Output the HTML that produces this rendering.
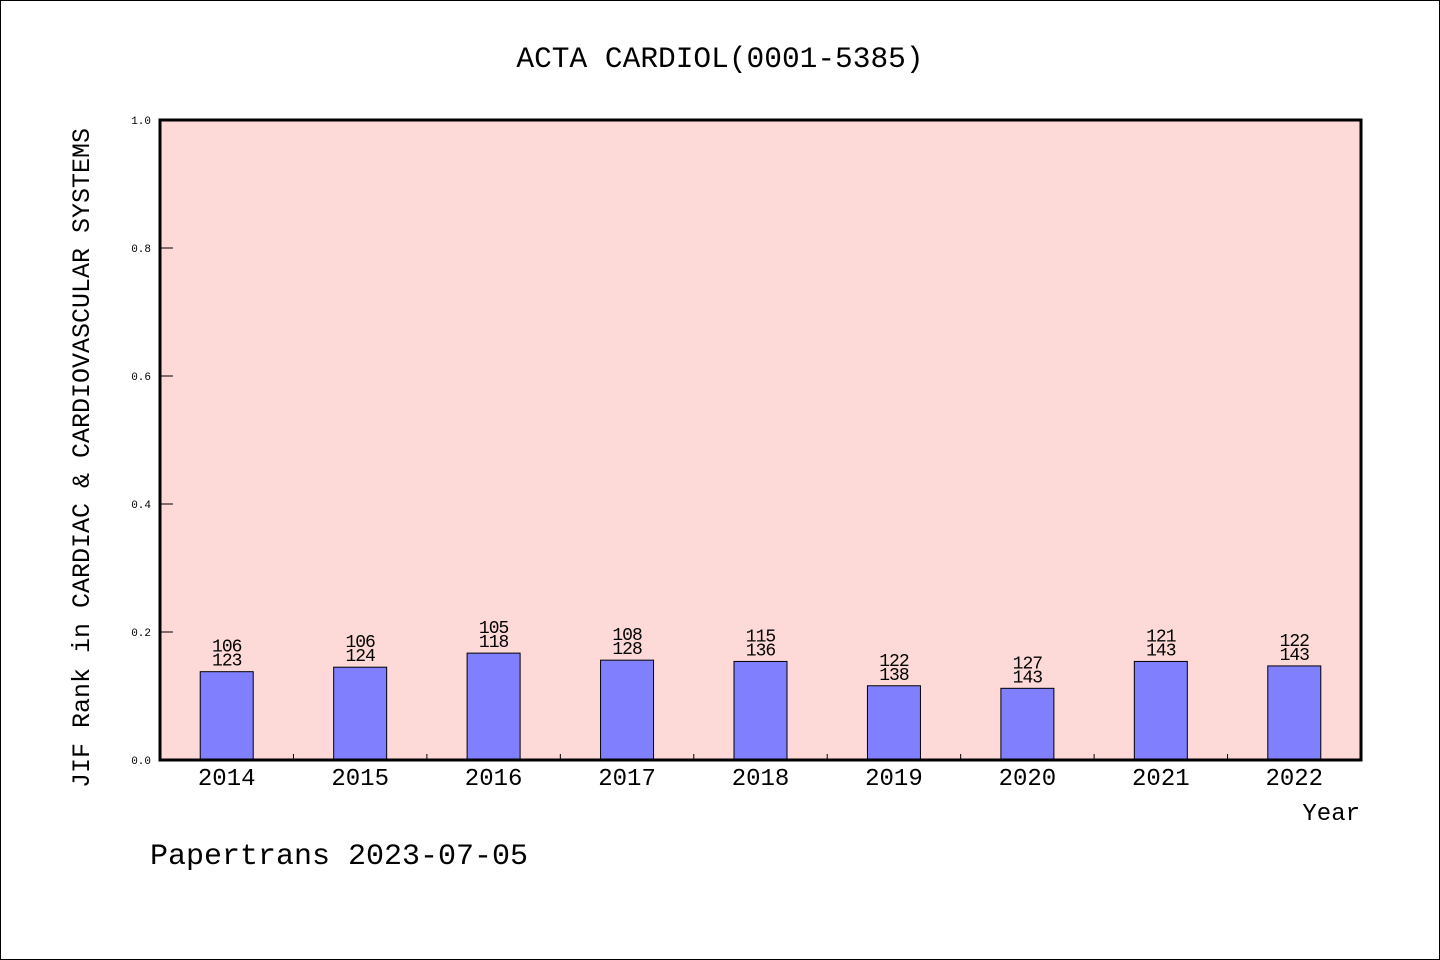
<!DOCTYPE html>
<html><head><meta charset="utf-8"><style>
html,body{margin:0;padding:0;background:#fff}
svg{display:block}
text{font-family:"Liberation Mono","DejaVu Sans Mono",monospace;fill:#000}
</style></head><body>
<svg id="chart" width="1440" height="960" xmlns="http://www.w3.org/2000/svg">
<rect x="0.5" y="0.5" width="1439" height="959" fill="#fff" stroke="#000" stroke-width="1"/>
<text x="720" y="67" text-anchor="middle" font-size="29.5">ACTA CARDIOL(0001-5385)</text>
<rect x="160" y="120" width="1201" height="640" fill="#fddad7"/>
<g id="grid"></g>
<g id="bars"></g>
<rect x="160" y="120" width="1201" height="640" fill="none" stroke="#000" stroke-width="3"/>
<text x="1360" y="820" text-anchor="end" font-size="24">Year</text>
<text transform="translate(89,458) rotate(-90)" text-anchor="middle" font-size="25">JIF Rank in CARDIAC &amp; CARDIOVASCULAR SYSTEMS</text>
<text x="150" y="864" font-size="30">Papertrans 2023-07-05</text>
</svg>
<script>
const years = ["2014","2015","2016","2017","2018","2019","2020","2021","2022"];
const ranks = [106,106,105,108,115,122,127,121,122];
const totals = [123,124,118,128,136,138,143,143,143];
const values = [0.138,0.145,0.167,0.156,0.154,0.116,0.112,0.154,0.147];
const yTicks = ["0.0","0.2","0.4","0.6","0.8","1.0"];
const NS="http://www.w3.org/2000/svg";
const L=160,R=1361,T=120,B=760;
const bw=(R-L)/years.length;
const y=v=>B-(v*(B-T));
const x=i=>L+bw*(i+0.5);
function mk(tag,attrs,parent){const e=document.createElementNS(NS,tag);for(const k in attrs)e.setAttribute(k,attrs[k]);parent.appendChild(e);return e;}
const g=document.getElementById('grid');
yTicks.forEach(t=>{
  const v=parseFloat(t),yy=y(v);
  const ln=mk('line',{x1:L,x2:L+13,y1:yy,y2:yy,stroke:'#000','stroke-width':1},g);
  
  
  const tx=mk('text',{x:151,y:yy+4,'text-anchor':'end','font-size':11},g);
  tx.textContent=t;
  
  
});
for(let i=1;i<years.length;i++){
  const xx=L+bw*i;
  const ln=mk('line',{x1:xx,x2:xx,y1:B-6,y2:B,stroke:'#000','stroke-width':1},g);
  
  
}
const bg=document.getElementById('bars');
years.forEach((yr,i)=>{
  const v=values[i];
  const top=y(v),cx=x(i);
  const r=mk('rect',{x:cx-26.5,y:top,width:53,height:B-top,fill:'#8080ff',stroke:'#000','stroke-width':1},bg);
  
  
  const t1=mk('text',{x:cx,y:top-20,'text-anchor':'middle','font-size':18,'letter-spacing':-1},bg);
  t1.textContent=ranks[i];
  
  
  const t2=mk('text',{x:cx,y:top-6,'text-anchor':'middle','font-size':18,'letter-spacing':-1},bg);
  t2.textContent=totals[i];
  
  
  const xl=mk('text',{x:cx,y:785,'text-anchor':'middle','font-size':24},bg);
  xl.textContent=yr;
  
  
});
</script>
</body></html>
